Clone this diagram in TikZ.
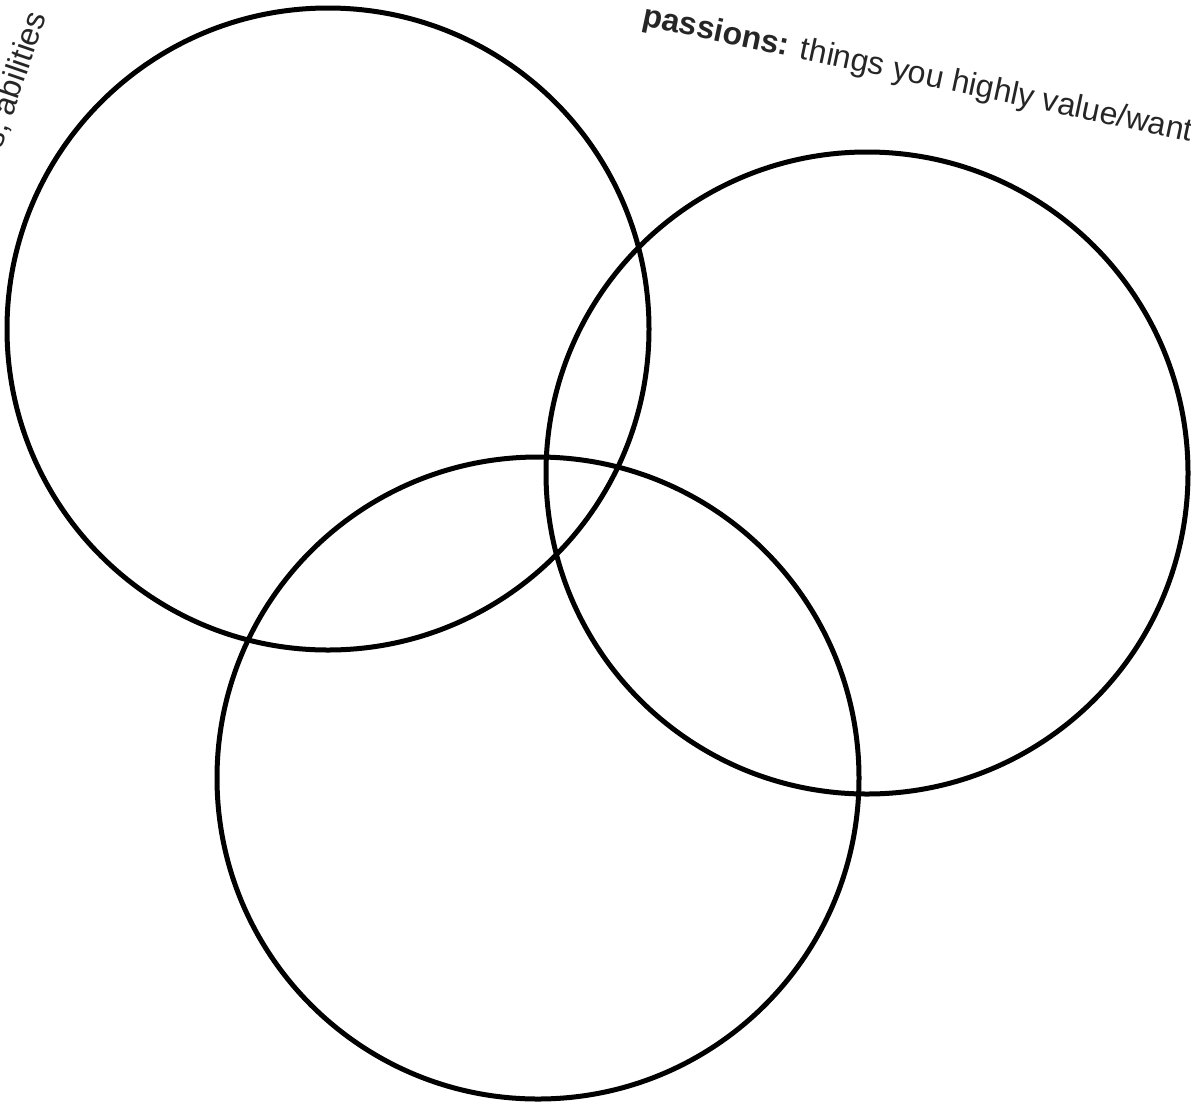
\documentclass[tikz,border=0pt]{standalone}
\usepackage{fontspec}
\setmainfont{Liberation Sans}
\begin{document}
\begin{tikzpicture}[x=1pt,y=-1pt,
  ring/.style={draw=black,line width=5pt},
  lbl/.style={font=\fontsize{32}{38}\selectfont,inner sep=0pt,text=black!85}]
\useasboundingbox (0,0) rectangle (1191,1104);
\node[ring,circle,minimum size=642pt,inner sep=0pt] (a) at (328,329) {};
\node[ring,circle,minimum size=642pt,inner sep=0pt] (b) at (867,473) {};
\node[ring,circle,minimum size=642pt,inner sep=0pt] (c) at (538,778) {};
\node[lbl,anchor=base west,rotate=-12] (p) at (641,25) {\textbf{passions:} things you highly value/want};
\node[lbl,anchor=base east,rotate=71] (t) at (47,16) {skills, abilities};
\end{tikzpicture}
\end{document}
